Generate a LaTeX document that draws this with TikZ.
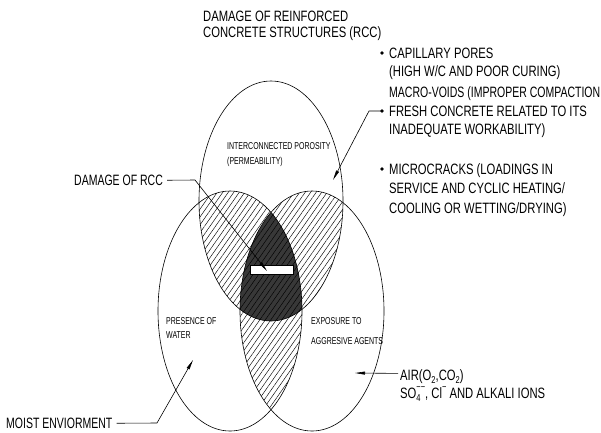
\documentclass[tikz,border=0pt]{standalone}
\usepackage{fontspec}
\setmainfont{Liberation Sans}
\newfontfamily\cad{Liberation Sans}[FakeStretch=0.7]
\newfontfamily\cadw{Liberation Sans}[FakeStretch=0.75]
\usetikzlibrary{arrows.meta,patterns.meta}
\newcommand\subs[1]{\raisebox{-0.35ex}{\fontsize{10}{10}\selectfont #1}}
\newcommand\sups[1]{\raisebox{0.95ex}{\fontsize{10}{10}\selectfont #1}}
\tikzset{
  big/.style={font=\cad\fontsize{15}{15}\selectfont, inner sep=0pt, anchor=base west},
  wide/.style={font=\cadw\fontsize{15}{15}\selectfont, inner sep=0pt, anchor=base west},
  small/.style={font=\cad\fontsize{10}{10}\selectfont, inner sep=0pt, anchor=base west},
  ell/.style={draw=black, line width=0.6pt},
  hatch/.style={pattern={Lines[angle=55,distance=4.5pt,line width=0.45pt]}, pattern color=black},
  leader/.style={draw=black, line width=0.6pt},
  tipped/.style={-{Triangle[length=10pt,width=3pt]}},
  dotmark/.style={circle, fill=black, inner sep=0pt, minimum size=3.6pt},
}
\begin{document}
\begin{tikzpicture}[x=1pt,y=-1pt]
\useasboundingbox (0,0) rectangle (601,432);
% hatched two-way overlaps
\begin{scope}
  \clip (271,201) ellipse [x radius=72pt, y radius=120pt];
  \fill[hatch] (230,311) ellipse [x radius=72pt, y radius=120pt];
  \fill[hatch] (312,311) ellipse [x radius=72pt, y radius=120pt];
\end{scope}
\begin{scope}
  \clip (230,311) ellipse [x radius=72pt, y radius=120pt];
  \fill[hatch] (312,311) ellipse [x radius=72pt, y radius=120pt];
\end{scope}
% dark triple overlap
\begin{scope}
  \clip (271,201) ellipse [x radius=72pt, y radius=120pt];
  \clip (230,311) ellipse [x radius=72pt, y radius=120pt];
  \fill[black!78] (312,311) ellipse [x radius=72pt, y radius=120pt];
  \fill[hatch] (312,311) ellipse [x radius=72pt, y radius=120pt];
\end{scope}
% outlines
\draw[ell] (271,201) ellipse [x radius=72pt, y radius=120pt];
\draw[ell] (230,311) ellipse [x radius=72pt, y radius=120pt];
\draw[ell] (312,311) ellipse [x radius=72pt, y radius=120pt];
% white bar
\node[draw, fill=white, line width=0.6pt, inner sep=0pt, minimum width=43pt, minimum height=9pt] (bar) at (271.5,269.5) {};

% title
\node[wide] (t1) at (203,21.4) {DAMAGE OF REINFORCED};
\node[wide] (t2) at (203,37.4) {CONCRETE STRUCTURES (RCC)};

% right block
\node[dotmark] (d1) at (382,53) {};
\node[dotmark] (d2) at (382,111) {};
\node[dotmark] (d3) at (382,169) {};
\node[wide] (r1) at (389,58.4) {CAPILLARY PORES};
\node[wide] (r2) at (389,76.4) {(HIGH W/C AND POOR CURING)};
\node[big] (r3) at (389,97.4) {MACRO-VOIDS (IMPROPER COMPACTION};
\node[wide] (r4) at (389,116.4) {FRESH CONCRETE RELATED TO ITS};
\node[wide] (r5) at (389,134.4) {INADEQUATE WORKABILITY)};
\node[wide] (r6) at (389,174.4) {MICROCRACKS (LOADINGS IN};
\node[wide] (r7) at (389,193.4) {SERVICE AND CYCLIC HEATING/};
\node[wide] (r8) at (389,213.4) {COOLING OR WETTING/DRYING)};

% inner labels
\node[small] (i1) at (227,149.6) {INTERCONNECTED POROSITY};
\node[small] (i2) at (227,164.6) {(PERMEABILITY)};
\node[small] (p1) at (166,324.6) {PRESENCE OF};
\node[small] (p2) at (166,338.6) {WATER};
\node[small] (e1) at (311,324.6) {EXPOSURE TO};
\node[small] (e2) at (311,344.6) {AGGRESIVE AGENTS};

% left / bottom labels
\node[big] (dr) at (74,185.4) {DAMAGE OF RCC};
\node[big] (me) at (6,428.4) {MOIST ENVIORMENT};
\node[wide] (air) at (400,380.4) {AIR(O\subs{2},CO\subs{2})};
\node[wide] (ions) at (400,398.4) {SO\rlap{\subs{4}}\sups{−−}, Cl\sups{−} AND ALKALI IONS};

% leaders
\coordinate (b1) at (195,180);
\coordinate (a1) at (267,271);
\draw[leader,tipped] (dr.east) ++(4,0) -- (b1) -- (a1);
\coordinate (m0) at (369,111);
\coordinate (m1) at (333,180);
\draw[leader,tipped] (d2.center) -- (m0) -- (m1);
\coordinate (b3) at (157,423);
\coordinate (a3) at (193,360);
\draw[leader,tipped] (me.east) ++(4,0) -- (b3) -- (a3);
\coordinate (a4) at (355,373);
\draw[leader,tipped] (air.base west) ++(-2,-7) -- (a4);
\end{tikzpicture}
\end{document}
